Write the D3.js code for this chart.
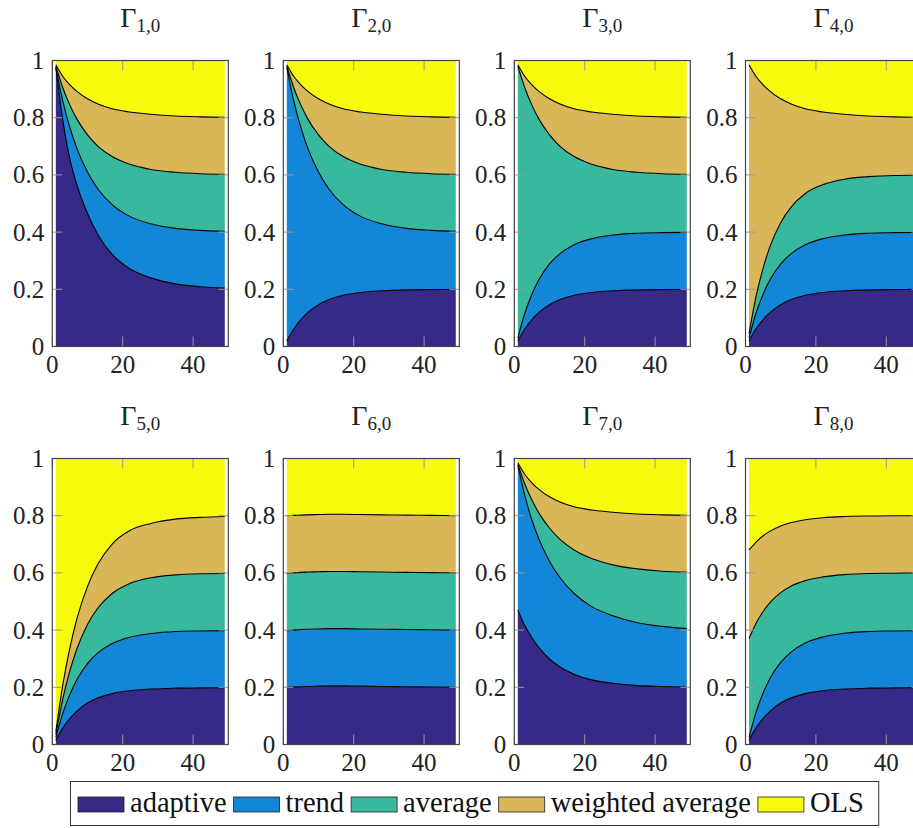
<!DOCTYPE html>
<html>
<head>
<meta charset="utf-8">
<script src="https://cdn.jsdelivr.net/npm/d3@7"></script>
<style>
  body { margin: 0; background: #fff; }
</style>
</head>
<body>
<svg id="chart" width="913" height="828"></svg>
<script>
// Shares of each forecasting strategy over time, eight initial conditions.
// Each panel holds the cumulative upper edge of the four lower layers; OLS fills up to 1.

const xs = [1, 3, 5, 7, 10, 13, 17, 22, 28, 35, 42, 49];

const strategies = ['adaptive', 'trend', 'average', 'weighted average', 'OLS'];
const colors     = ['#352a87', '#1486d8', '#38b99e', '#d9b657', '#f8fa0d'];
const subscripts = ['1,0', '2,0', '3,0', '4,0', '5,0', '6,0', '7,0', '8,0'];

const xTicks = [0, 20, 40];
const yTicks = [0, 0.2, 0.4, 0.6, 0.8, 1];

const gamma1 = [
  [0.975, 0.79, 0.655, 0.565, 0.465, 0.39, 0.322, 0.272, 0.24, 0.219, 0.209, 0.204],
  [0.975, 0.857, 0.765, 0.692, 0.61, 0.55, 0.496, 0.455, 0.429, 0.413, 0.406, 0.403],
  [0.98, 0.904, 0.844, 0.795, 0.74, 0.7, 0.664, 0.637, 0.619, 0.609, 0.604, 0.602],
  [0.985, 0.944, 0.915, 0.892, 0.866, 0.848, 0.831, 0.82, 0.812, 0.806, 0.803, 0.801]
];
const gamma2 = [
  [0.02, 0.062, 0.094, 0.119, 0.146, 0.164, 0.179, 0.189, 0.195, 0.198, 0.199, 0.2],
  [0.975, 0.857, 0.765, 0.692, 0.61, 0.55, 0.496, 0.455, 0.429, 0.413, 0.406, 0.403],
  [0.98, 0.904, 0.844, 0.795, 0.74, 0.7, 0.664, 0.637, 0.619, 0.609, 0.604, 0.602],
  [0.985, 0.944, 0.915, 0.892, 0.866, 0.848, 0.831, 0.82, 0.812, 0.806, 0.803, 0.801]
];
const gamma3 = [
  [0.02, 0.062, 0.094, 0.119, 0.146, 0.164, 0.179, 0.189, 0.195, 0.198, 0.199, 0.2],
  [0.03, 0.117, 0.183, 0.234, 0.289, 0.325, 0.356, 0.377, 0.39, 0.396, 0.398, 0.399],
  [0.98, 0.904, 0.844, 0.795, 0.74, 0.7, 0.664, 0.637, 0.619, 0.609, 0.604, 0.602],
  [0.985, 0.944, 0.915, 0.892, 0.866, 0.848, 0.831, 0.82, 0.812, 0.806, 0.803, 0.801]
];
const gamma4 = [
  [0.02, 0.062, 0.094, 0.119, 0.146, 0.164, 0.179, 0.189, 0.195, 0.198, 0.199, 0.2],
  [0.03, 0.117, 0.183, 0.234, 0.289, 0.325, 0.356, 0.377, 0.39, 0.396, 0.398, 0.399],
  [0.045, 0.175, 0.274, 0.351, 0.433, 0.488, 0.535, 0.566, 0.585, 0.594, 0.598, 0.599],
  [0.985, 0.944, 0.915, 0.892, 0.866, 0.848, 0.831, 0.82, 0.812, 0.806, 0.803, 0.801]
];
const gamma5 = [
  [0.015, 0.058, 0.091, 0.117, 0.145, 0.163, 0.178, 0.188, 0.194, 0.197, 0.198, 0.199],
  [0.025, 0.11, 0.175, 0.227, 0.283, 0.321, 0.353, 0.375, 0.388, 0.395, 0.397, 0.398],
  [0.035, 0.16, 0.258, 0.335, 0.42, 0.478, 0.528, 0.563, 0.583, 0.593, 0.597, 0.598],
  [0.045, 0.21, 0.338, 0.44, 0.553, 0.632, 0.701, 0.748, 0.773, 0.788, 0.794, 0.797]
];
const gamma6 = [
  [0.2, 0.201, 0.202, 0.203, 0.204, 0.205, 0.205, 0.204, 0.203, 0.202, 0.201, 0.2],
  [0.398, 0.4, 0.402, 0.403, 0.404, 0.405, 0.405, 0.404, 0.403, 0.402, 0.401, 0.4],
  [0.598, 0.6, 0.602, 0.603, 0.604, 0.605, 0.605, 0.604, 0.603, 0.602, 0.601, 0.6],
  [0.8, 0.801, 0.802, 0.803, 0.804, 0.805, 0.805, 0.804, 0.803, 0.802, 0.801, 0.8]
];
const gamma7 = [
  [0.47, 0.416, 0.373, 0.339, 0.299, 0.271, 0.246, 0.226, 0.214, 0.206, 0.203, 0.201],
  [0.975, 0.87, 0.785, 0.718, 0.641, 0.583, 0.528, 0.482, 0.45, 0.426, 0.413, 0.405],
  [0.98, 0.91, 0.855, 0.809, 0.757, 0.717, 0.68, 0.65, 0.628, 0.614, 0.606, 0.603],
  [0.985, 0.944, 0.915, 0.892, 0.866, 0.848, 0.831, 0.82, 0.812, 0.806, 0.803, 0.801]
];
const gamma8 = [
  [0.015, 0.058, 0.091, 0.117, 0.145, 0.163, 0.178, 0.188, 0.194, 0.197, 0.198, 0.199],
  [0.025, 0.113, 0.18, 0.232, 0.287, 0.324, 0.355, 0.376, 0.389, 0.395, 0.397, 0.398],
  [0.37, 0.424, 0.465, 0.497, 0.531, 0.554, 0.573, 0.586, 0.594, 0.598, 0.599, 0.6],
  [0.68, 0.708, 0.73, 0.746, 0.764, 0.776, 0.786, 0.793, 0.797, 0.799, 0.8, 0.8]
];

const panels = [gamma1, gamma2, gamma3, gamma4, gamma5, gamma6, gamma7, gamma8];

// ── Layout ─────────────────────────────────────────────────────────────
const svg = d3.select('#chart');
const serif = "'Liberation Serif'";
const colLeft = [52.3, 283.3, 514.3, 745.5];
const rowTop  = [60.5, 458.5];
const pw = 176, ph = 286;

const x = d3.scaleLinear().domain([0, 50]).range([0, pw]);
const y = d3.scaleLinear().domain([0, 1]).range([ph, 0]);

panels.forEach((bounds, p) => {
  const col = p % 4, row = Math.floor(p / 4);
  const g = svg.append('g').attr('transform', `translate(${colLeft[col]},${rowTop[row]})`);

  // layer k spans from edge k-1 (or 0) to edge k (or 1)
  const lower = k => k === 0 ? xs.map(() => 0) : bounds[k - 1];
  const upper = k => k === 4 ? xs.map(() => 1) : bounds[k];

  strategies.forEach((s, k) => {
    const lo = lower(k), hi = upper(k);
    const area = d3.area()
      .x((d, i) => x(xs[i]))
      .y0((d, i) => y(lo[i]))
      .y1((d, i) => y(hi[i]))
      .curve(d3.curveMonotoneX);
    g.append('path').datum(xs).attr('d', area).attr('fill', colors[k]);
  });

  bounds.forEach(b => {
    const line = d3.line()
      .x((d, i) => x(xs[i]))
      .y(d => y(d))
      .curve(d3.curveMonotoneX);
    g.append('path').datum(b).attr('d', line)
      .attr('fill', 'none').attr('stroke', '#000').attr('stroke-width', 1.1);
  });

  // inward ticks on all four sides
  const tl = 10, tc = '#9a9a9a';
  yTicks.forEach(t => {
    g.append('line').attr('x1', 0).attr('x2', tl).attr('y1', y(t)).attr('y2', y(t))
      .attr('stroke', tc).attr('stroke-width', 1);
    g.append('line').attr('x1', pw - tl).attr('x2', pw).attr('y1', y(t)).attr('y2', y(t))
      .attr('stroke', tc).attr('stroke-width', 1);
    g.append('text').attr('x', -8).attr('y', y(t)).attr('dy', '0.34em')
      .attr('text-anchor', 'end').attr('font-size', 25).attr('fill', '#222')
      .style('font-family', serif)
      .text(d3.format('~g')(t));
  });
  xTicks.forEach(t => {
    g.append('line').attr('x1', x(t)).attr('x2', x(t)).attr('y1', ph).attr('y2', ph - tl)
      .attr('stroke', tc).attr('stroke-width', 1);
    g.append('line').attr('x1', x(t)).attr('x2', x(t)).attr('y1', 0).attr('y2', tl)
      .attr('stroke', tc).attr('stroke-width', 1);
    g.append('text').attr('x', x(t)).attr('y', ph + 26)
      .attr('text-anchor', 'middle').attr('font-size', 25).attr('fill', '#222')
      .style('font-family', serif)
      .text(t);
  });

  g.append('rect').attr('width', pw).attr('height', ph)
    .attr('fill', 'none').attr('stroke', '#444').attr('stroke-width', 1.2);

  const title = g.append('text').attr('x', pw / 2).attr('y', -33.5)
    .attr('text-anchor', 'middle').attr('fill', '#222').style('font-family', serif);
  title.append('tspan').attr('font-size', 28).text('Γ');
  title.append('tspan').attr('font-size', 19).attr('dy', 5).text(subscripts[p]);
});

// ── Legend ─────────────────────────────────────────────────────────────
const leg = svg.append('g');
const legBox = leg.append('rect')
  .attr('x', 70.5).attr('y', 781.5).attr('height', 44)
  .attr('fill', '#fff').attr('stroke', '#333').attr('stroke-width', 1);

let cx = 78;
strategies.forEach((s, k) => {
  leg.append('rect').attr('x', cx).attr('y', 797).attr('width', 46).attr('height', 15)
    .attr('fill', colors[k]).attr('stroke', '#222').attr('stroke-width', 0.8);
  const t = leg.append('text').attr('x', cx + 52).attr('y', 811.5)
    .attr('font-size', 28.5).attr('fill', '#111').style('font-family', serif).text(s);
  cx += 52 + t.node().getComputedTextLength() + 7;
});
legBox.attr('width', cx - 70.5 + 8);
</script>
</body>
</html>
